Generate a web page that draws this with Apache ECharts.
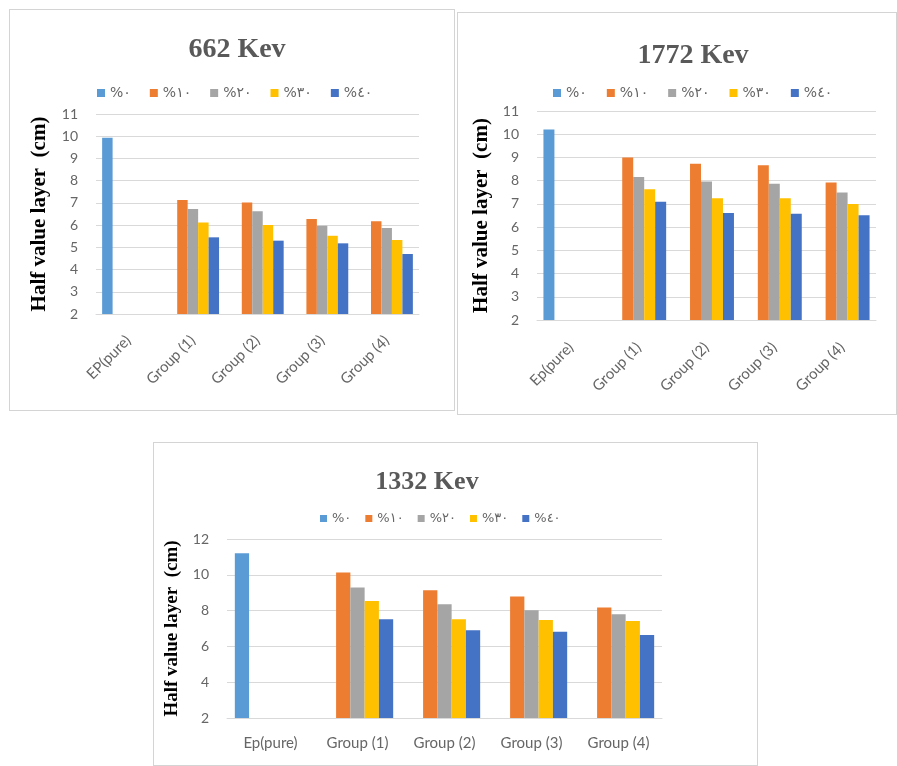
<!DOCTYPE html>
<html>
<head>
<meta charset="utf-8">
<script src="https://cdn.jsdelivr.net/npm/echarts@6/dist/echarts.min.js"></script>
<style>
html,body{margin:0;padding:0;background:#fff;width:897px;height:766px;overflow:hidden;}
.panel{position:absolute;box-sizing:border-box;border:1px solid #d4d4d4;background:#fff;}
</style>
</head>
<body>
<div id="p1" class="panel" style="left:9px;top:9px;width:446px;height:402px;"></div>
<div id="p2" class="panel" style="left:457px;top:12px;width:440px;height:403px;"></div>
<div id="p3" class="panel" style="left:153px;top:442px;width:605px;height:324px;"></div>
<script>
// Series names (legend)
const seriesNames = ['%٠', '%١٠', '%٢٠', '%٣٠', '%٤٠'];
const colors = ['#5B9BD5', '#ED7D31', '#A5A5A5', '#FFC000', '#4472C4'];

// Categories
const cats662 = ['EP(pure)', 'Group (1)', 'Group (2)', 'Group (3)', 'Group (4)'];
const cats1772 = ['Ep(pure)', 'Group (1)', 'Group (2)', 'Group (3)', 'Group (4)'];
const cats1332 = ['Ep(pure)', 'Group (1)', 'Group (2)', 'Group (3)', 'Group (4)'];

// 662 Kev values (per series, across categories)
const v662_0 = [9.93, null, null, null, null];
const v662_10 = [null, 7.13, 7.02, 6.27, 6.17];
const v662_20 = [null, 6.72, 6.62, 5.97, 5.87];
const v662_30 = [null, 6.12, 6.0, 5.52, 5.33];
const v662_40 = [null, 5.45, 5.3, 5.18, 4.7];

// 1772 Kev values
const v1772_0 = [10.2, null, null, null, null];
const v1772_10 = [null, 9.0, 8.73, 8.66, 7.92];
const v1772_20 = [null, 8.16, 7.96, 7.87, 7.49];
const v1772_30 = [null, 7.63, 7.24, 7.24, 6.99];
const v1772_40 = [null, 7.09, 6.61, 6.58, 6.51];

// 1332 Kev values
const v1332_0 = [11.2, null, null, null, null];
const v1332_10 = [null, 10.13, 9.14, 8.79, 8.17];
const v1332_20 = [null, 9.29, 8.36, 8.02, 7.79];
const v1332_30 = [null, 8.54, 7.51, 7.48, 7.42];
const v1332_40 = [null, 7.51, 6.9, 6.82, 6.64];

// y ticks
const yTicks12 = {min: 2, max: 11, interval: 1};
const yTicks3 = {min: 2, max: 12, interval: 2};

const labelColor = '#666666';
const gridColor = '#D9D9D9';
const axisFont = 'Lato, "Open Sans", sans-serif';
const serif = '"Liberation Serif", "DejaVu Serif", serif';

function build(cfg) {
  const data = cfg.values;
  return {
    animation: false,
    title: {
      text: cfg.title,
      left: cfg.titleX,
      top: cfg.titleTop,
      textAlign: 'center',
      textStyle: {fontFamily: serif, fontWeight: 'bold', fontSize: cfg.titleSize, color: '#595959'}
    },
    legend: {
      data: seriesNames,
      left: cfg.legendX,
      top: cfg.legendTop,
      icon: 'rect',
      itemWidth: cfg.iconSize,
      itemHeight: cfg.iconSize,
      itemGap: cfg.legendGap,
      textStyle: {fontFamily: '"DejaVu Sans", sans-serif', fontSize: cfg.legendFont, color: '#666666'}
    },
    grid: cfg.grid,
    xAxis: {
      type: 'category',
      data: cfg.cats,
      axisTick: {show: false},
      axisLine: {lineStyle: {color: gridColor}},
      axisLabel: {
        rotate: cfg.rotate,
        margin: cfg.xMargin,
        color: labelColor,
        fontFamily: axisFont,
        fontSize: cfg.xFont,
        interval: 0
      }
    },
    yAxis: {
      type: 'value',
      min: cfg.y.min,
      max: cfg.y.max,
      interval: cfg.y.interval,
      name: 'Half value layer  (cm)',
      nameLocation: 'middle',
      nameRotate: 90,
      nameGap: cfg.nameGap,
      nameTextStyle: {fontFamily: serif, fontWeight: 'bold', fontSize: cfg.nameSize, color: '#000'},
      axisLine: {show: false},
      axisTick: {show: false},
      axisLabel: {margin: cfg.yMargin, color: labelColor, fontFamily: axisFont, fontSize: cfg.yFont},
      splitLine: {lineStyle: {color: gridColor}}
    },
    series: seriesNames.map((n, i) => ({
      name: n,
      type: 'bar',
      data: data[i],
      itemStyle: {color: colors[i]},
      barGap: '0%',
      barCategoryGap: cfg.catGap
    }))
  };
}

const c1 = echarts.init(document.getElementById('p1'));
c1.setOption(build({
  title: '662 Kev', titleX: 222, titleTop: 21, titleSize: 28,
  legendX: 82, legendTop: 71, legendGap: 19, legendFont: 14, iconSize: 8,
  grid: {left: 86, top: 104, width: 323, height: 200},
  cats: cats662, rotate: 45, xMargin: 24, xFont: 15,
  y: yTicks12, nameGap: 46, nameSize: 21, yMargin: 18, yFont: 14,
  values: [v662_0, v662_10, v662_20, v662_30, v662_40],
  catGap: '19%'
}));

const c2 = echarts.init(document.getElementById('p2'));
c2.setOption(build({
  title: '1772 Kev', titleX: 230, titleTop: 24, titleSize: 28,
  legendX: 90, legendTop: 68, legendGap: 20, legendFont: 14, iconSize: 8,
  grid: {left: 79, top: 98, width: 339, height: 209},
  cats: cats1772, rotate: 45, xMargin: 25, xFont: 15,
  y: yTicks12, nameGap: 37, nameSize: 21, yMargin: 18, yFont: 14,
  values: [v1772_0, v1772_10, v1772_20, v1772_30, v1772_40],
  catGap: '19%'
}));

const c3 = echarts.init(document.getElementById('p3'));
c3.setOption(build({
  title: '1332 Kev', titleX: 268, titleTop: 21, titleSize: 26,
  legendX: 161, legendTop: 64, legendGap: 14, legendFont: 13, iconSize: 7,
  grid: {left: 73, top: 96, width: 435, height: 179},
  cats: cats1332, rotate: 0, xMargin: 18, xFont: 15,
  y: yTicks3, nameGap: 36, nameSize: 19, yMargin: 18, yFont: 14,
  values: [v1332_0, v1332_10, v1332_20, v1332_30, v1332_40],
  catGap: '18%'
}));
</script>
</body>
</html>
